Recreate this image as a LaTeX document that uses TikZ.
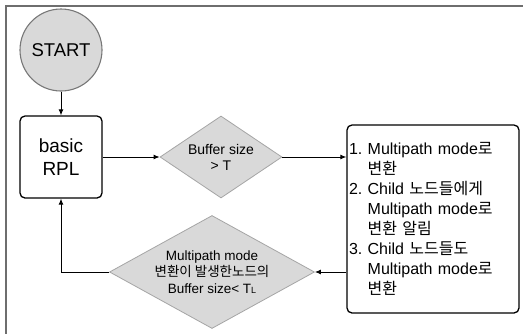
\documentclass[tikz,border=0pt]{standalone}
\usepackage{fontspec}
\setmainfont{Liberation Sans}
\newfontfamily\kr{Noto Sans CJK KR}
\usetikzlibrary{shapes.geometric,arrows.meta}
\frenchspacing
\definecolor{fillgray}{RGB}{217,217,217}
\definecolor{edgegray}{RGB}{165,165,165}
\definecolor{circgray}{RGB}{120,120,120}
\definecolor{framegray}{RGB}{110,110,110}
\tikzset{
  arr/.style={draw=black, line width=0.9pt, -{Latex[length=6pt,width=5pt]}},
  startnode/.style={circle, draw=circgray, line width=1.1pt, fill=fillgray, minimum size=82pt, inner sep=0pt, font=\fontsize{18.5}{20}\selectfont},
  boxnode/.style={rectangle, rounded corners=5pt, draw=black, line width=1.3pt, fill=white, inner sep=0pt},
  decision/.style={diamond, draw=edgegray, line width=0.8pt, fill=fillgray, inner sep=0pt, align=center},
}
\begin{document}
\begin{tikzpicture}[x=1pt,y=-1pt]
\useasboundingbox (0,0) rectangle (523,333);
\fill[white] (0,0) rectangle (523,333);
\draw[framegray, line width=2pt] (5.5,340) -- (5.5,5.5) -- (530,5.5);

\node[startnode] (start) at (61,50) {START};
\node[boxnode, minimum width=82pt, minimum height=82pt, align=center, font=\fontsize{19}{23}\selectfont] (rpl) at (61,157) {basic\\RPL};
\node[decision, minimum width=122pt, minimum height=82pt, aspect=1.49, font=\fontsize{14}{16}\selectfont] (d1) at (221,157) {Buffer size\\> T};
\node[boxnode, minimum width=172pt, minimum height=188pt, text width=168pt, inner xsep=2pt, align=left, font=\fontsize{16}{20}\selectfont] (act) at (433,219)
{1. Multipath mode{\kr 로}\\
\phantom{1. }{\kr 변환}\\
2. Child {\kr 노드들에게}\\
\phantom{2. }Multipath mode{\kr 로}\\
\phantom{2. }{\kr 변환 알림}\\
3. Child {\kr 노드들도}\\
\phantom{3. }Multipath mode{\kr 로}\\
\phantom{3. }{\kr 변환}};
\node[decision, minimum width=205pt, minimum height=113pt, aspect=1.81, font=\fontsize{13.5}{16.5}\selectfont] (d2) at (212,272)
{Multipath mode\\{\kr 변환이 발생한노드의}\\Buffer size< T{\fontsize{9}{9}\selectfont L}};

\draw[arr] (start) -- (rpl);
\draw[arr] (rpl) -- (d1);
\draw[arr] (d1) -- (act.west |- d1.east);
\draw[arr] (act.west |- d2.east) -- (d2.east);
\draw[arr] (d2.west) -| (rpl.south);
\end{tikzpicture}
\end{document}
